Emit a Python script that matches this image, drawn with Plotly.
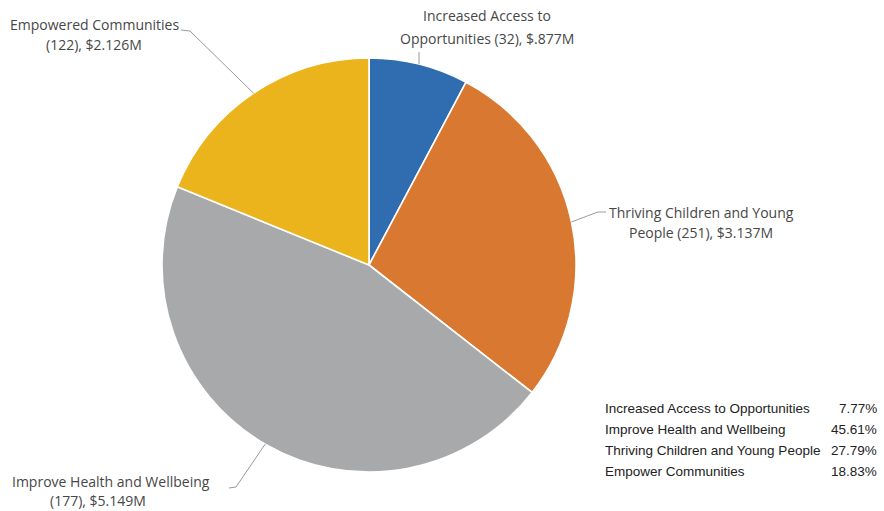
import math
import plotly.graph_objects as go

# Funding by outcome area
categories = ["Increased Access to Opportunities", "Thriving Children and Young People",
              "Improve Health and Wellbeing", "Empowered Communities"]
grant_counts = [32, 251, 177, 122]
funding_musd = [0.877, 3.137, 5.149, 2.126]
colors = ["#2f6db0", "#d97830", "#a7a9ab", "#ebb31c"]

# Summary table (its own wording and order)
table_labels = ["Increased Access to Opportunities", "Improve Health and Wellbeing",
                "Thriving Children and Young People", "Empower Communities"]
table_keys = [0, 2, 1, 3]

W, H = 884, 511
CX, CY, R = 369, 265, 207


def px(x, y):
    return x / W, 1 - y / H


total = sum(funding_musd)

fig = go.Figure(go.Pie(
    labels=categories,
    values=funding_musd,
    sort=False,
    direction="clockwise",
    rotation=0,
    marker=dict(colors=colors, line=dict(color="white", width=1.6)),
    textinfo="none",
    hoverinfo="label+value+percent",
    domain=dict(x=[(CX - R) / W, (CX + R) / W], y=[1 - (CY + R) / H, 1 - (CY - R) / H]),
    showlegend=False,
))


def edge_point(i):
    # point on the rim at the middle of slice i (clockwise from 12 o'clock)
    start = sum(funding_musd[:i]) / total
    mid = (start + funding_musd[i] / total / 2) * 2 * math.pi
    return CX + R * math.sin(mid), CY - R * math.cos(mid)


def money(v):
    s = f"{v:.3f}"
    return "$" + (s[1:] if s.startswith("0") else s) + "M"


label_font = dict(family="Open Sans, Lato, sans-serif", size=14, color="#474747")

# label lines: (index, [(text, center_x, center_y), ...], leader path points before rim)
label_specs = [
    (0, [("Increased Access to", 487, 15), (f"Opportunities ({grant_counts[0]}), {money(funding_musd[0])}", 487, 38)],
     [(419, 52)]),
    (1, [("Thriving Children and Young", 701, 213), (f"People ({grant_counts[1]}), {money(funding_musd[1])}", 701, 233)],
     [(606, 212), (598, 212)]),
    (2, [("Improve Health and Wellbeing", 111, 481), (f"({grant_counts[2]}), {money(funding_musd[2])}", 98, 500)],
     [(229, 488), (236, 487)]),
    (3, [("Empowered Communities", 94, 25), (f"({grant_counts[3]}), {money(funding_musd[3])}", 94, 45)],
     [(181, 30), (190, 31)]),
]

annotations = []
shapes = []
for idx, lines, leader in label_specs:
    for text, x, y in lines:
        ax, ay = px(x, y)
        annotations.append(dict(x=ax, y=ay, xref="paper", yref="paper", text=text, showarrow=False,
                                xanchor="center", yanchor="middle", font=label_font))
    pts = leader + [edge_point(idx)]
    path = "M " + " L ".join(f"{px(a, b)[0]:.5f},{px(a, b)[1]:.5f}" for a, b in pts)
    shapes.append(dict(type="path", xref="paper", yref="paper", path=path,
                       line=dict(color="#9a9a9a", width=1)))

table_font = dict(family="Liberation Sans, Arial, sans-serif", size=13.5, color="#222222")
for row, (lab, k) in enumerate(zip(table_labels, table_keys)):
    y = 408 + row * 21
    pct = funding_musd[k] / total * 100
    lx, ly = px(603, y)
    annotations.append(dict(x=lx, y=ly, xref="paper", yref="paper", text=lab, showarrow=False,
                            xanchor="left", yanchor="middle", font=table_font))
    rx, ry = px(879, y)
    annotations.append(dict(x=rx, y=ry, xref="paper", yref="paper", text=f"{pct:.2f}%", showarrow=False,
                            xanchor="right", yanchor="middle", font=table_font))

fig.update_layout(
    width=W, height=H,
    margin=dict(l=0, r=0, t=0, b=0),
    paper_bgcolor="white", plot_bgcolor="white",
    annotations=annotations, shapes=shapes,
)

fig.write_html("out.html")
